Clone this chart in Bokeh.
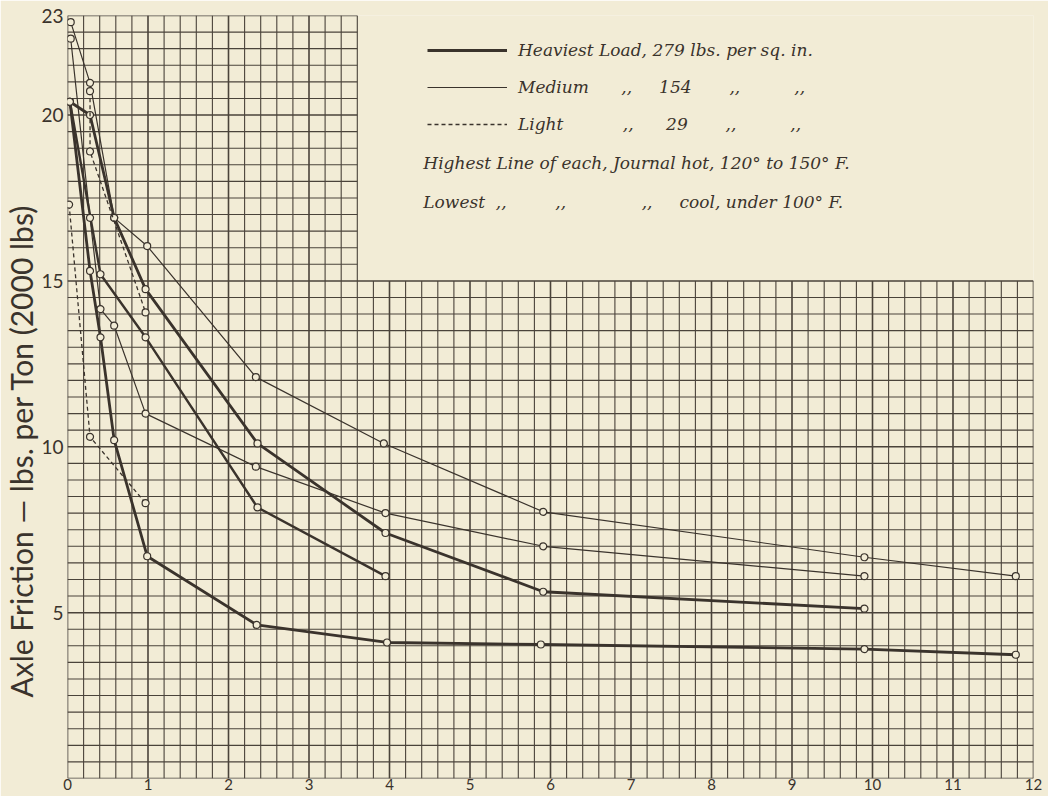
import numpy as np
from bokeh.plotting import figure
from bokeh.models import Range1d, FixedTicker, Legend, LegendItem, Label, Title
from bokeh.embed import file_html
from bokeh.resources import INLINE

# ---------------- data ----------------
heavy_hot_x = [0.03, 0.28, 0.58, 0.97, 2.36, 3.95, 5.91, 9.90]
heavy_hot_y = [20.4, 20.0, 16.9, 14.75, 10.1, 7.4, 5.63, 5.12]

heavy_cool_x = [0.03, 0.28, 0.41, 0.58, 0.99, 2.35, 3.97, 5.88, 9.90, 11.78]
heavy_cool_y = [20.4, 15.3, 13.3, 10.2, 6.7, 4.63, 4.1, 4.04, 3.9, 3.73]

heavy_third_x = [0.03, 0.41, 0.97, 2.36, 3.95]
heavy_third_y = [20.4, 15.2, 13.3, 8.17, 6.1]

medium_hot_x = [0.04, 0.28, 0.58, 0.99, 2.34, 3.93, 5.91, 9.90, 11.78]
medium_hot_y = [22.8, 20.97, 16.9, 16.05, 12.1, 10.1, 8.04, 6.67, 6.1]

medium_cool_x = [0.04, 0.28, 0.41, 0.58, 0.97, 2.34, 3.95, 5.91, 9.90]
medium_cool_y = [22.3, 16.9, 14.15, 13.65, 11.0, 9.4, 8.0, 7.0, 6.1]

light_hot_x = [0.28, 0.28, 0.97]
light_hot_y = [20.72, 18.9, 14.05]

light_cool_x = [0.02, 0.28, 0.97]
light_cool_y = [17.3, 10.3, 8.3]

x_ticks = [0, 1, 2, 3, 4, 5, 6, 7, 8, 9, 10, 11, 12]
y_ticks = [5, 10, 15, 20, 23]

NB = "\u00a0"
legend_labels = [
    "Heaviest Load, 279 lbs. per sq. in.",
    "Medium" + NB * 6 + ",," + NB * 5 + "154" + NB * 7 + ",," + NB * 10 + ",,",
    "Light" + NB * 11 + ",," + NB * 6 + "29" + NB * 7 + ",," + NB * 10 + ",,",
]
note_hot = "Highest Line of each, Journal hot, 120\u00b0 to 150\u00b0 F."
note_cool = ("Lowest" + NB * 2 + ",," + NB * 9 + ",," + NB * 14 + ",,"
             + NB * 5 + "cool, under 100\u00b0 F.")
y_title = "Axle Friction \u2014 lbs. per Ton (2000 lbs)"

# ---------------- styling ----------------
BG = "#f2ecd6"
INK = "#3a332c"
GRID = "#4a433a"

p = figure(width=1048, height=796, output_backend="svg", toolbar_location=None,
           x_range=Range1d(0, 12), y_range=Range1d(0, 23),
           min_border_left=67, min_border_right=15, min_border_top=15,
           min_border_bottom=18,
           background_fill_color=BG, border_fill_color=BG)
p.outline_line_color = None
p.grid.visible = False

for ax in (p.xaxis[0], p.yaxis[0]):
    ax.axis_line_color = None
    ax.major_tick_line_color = None
    ax.minor_tick_line_color = None
    ax.major_tick_out = 0
    ax.major_tick_in = 0
    ax.minor_tick_out = 0
    ax.minor_tick_in = 0
    ax.major_label_text_font = "Lato"
    ax.major_label_text_color = INK
p.xaxis.ticker = FixedTicker(ticks=x_ticks)
p.yaxis.ticker = FixedTicker(ticks=y_ticks)
p.xaxis.major_label_text_font_size = "15px"
p.yaxis.major_label_text_font_size = "19px"
p.xaxis.major_label_standoff = 0
p.yaxis.major_label_standoff = 4

# y-axis title, placed low like in the reference
p.add_layout(Title(text=y_title, align="left", offset=81, standoff=0,
                   text_font="Lato", text_font_size="30px",
                   text_font_style="normal", text_color=INK), "left")

# ---------------- graph-paper grid ----------------
xs_v = np.round(np.arange(0, 12.0001, 0.2), 2)
top_v = np.where(xs_v <= 3.6 + 1e-9, 23.0, 15.0)
maj_v = np.isclose(xs_v, np.round(xs_v))
ys_h = np.round(np.arange(0, 23.0001, 0.5), 2)
right_h = np.where(ys_h <= 15 + 1e-9, 12.0, 3.6)
maj_h = np.isclose(ys_h % 5, 0) | np.isclose(ys_h, 23)

p.segment(x0=xs_v[~maj_v], y0=0, x1=xs_v[~maj_v], y1=top_v[~maj_v],
          line_color=GRID, line_width=1.1)
p.segment(x0=ys_h[~maj_h] * 0, y0=ys_h[~maj_h], x1=right_h[~maj_h], y1=ys_h[~maj_h],
          line_color=GRID, line_width=1.1)
p.segment(x0=xs_v[maj_v], y0=0, x1=xs_v[maj_v], y1=top_v[maj_v],
          line_color=GRID, line_width=1.6)
p.segment(x0=ys_h[maj_h] * 0, y0=ys_h[maj_h], x1=right_h[maj_h], y1=ys_h[maj_h],
          line_color=GRID, line_width=1.5)

# ---------------- curves ----------------
def curve(xs, ys, width, dash="solid"):
    r = p.line(xs, ys, line_color=INK, line_width=width, line_dash=dash,
               line_join="round")
    p.scatter(xs, ys, size=7, marker="circle", fill_color=BG,
              line_color=INK, line_width=1.2)
    return r

r_hh = curve(heavy_hot_x, heavy_hot_y, 2.8)
r_hc = curve(heavy_cool_x, heavy_cool_y, 2.8)
r_h3 = curve(heavy_third_x, heavy_third_y, 2.4)
r_mh = curve(medium_hot_x, medium_hot_y, 1.2)
r_mc = curve(medium_cool_x, medium_cool_y, 1.2)
r_lh = curve(light_hot_x, light_hot_y, 1.3, "4 3")
r_lc = curve(light_cool_x, light_cool_y, 1.3, "4 3")

# ---------------- legend ----------------
legend = Legend(
    items=[LegendItem(label=legend_labels[0], renderers=[r_hh]),
           LegendItem(label=legend_labels[1], renderers=[r_mh]),
           LegendItem(label=legend_labels[2], renderers=[r_lh])],
    location=(360, 644), orientation="vertical",
    glyph_width=80, glyph_height=20, label_height=20, spacing=17,
    padding=0, margin=0, label_standoff=11,
    background_fill_alpha=0, border_line_alpha=0,
    label_text_font="DejaVu Serif", label_text_font_style="italic",
    label_text_font_size="17px", label_text_color=INK)
p.add_layout(legend)

for txt, yy in ((note_hot, 18.54), (note_cool, 17.37)):
    p.add_layout(Label(x=4.42, y=yy, text=txt,
                       text_font="DejaVu Serif", text_font_style="italic",
                       text_font_size="17px", text_color=INK,
                       text_baseline="middle", text_align="left"))

open("out.html", "w").write(file_html(p, INLINE))
